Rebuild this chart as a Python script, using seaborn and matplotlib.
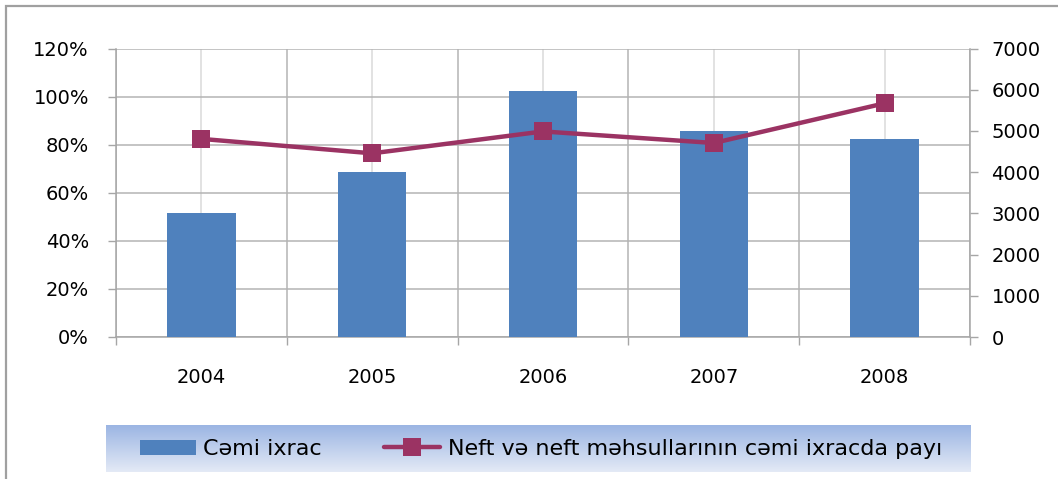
import numpy as np
import pandas as pd
import matplotlib
matplotlib.use("Agg")
import matplotlib.pyplot as plt
import seaborn as sns
from matplotlib.patches import Patch, Rectangle
from matplotlib.lines import Line2D
from matplotlib.ticker import PercentFormatter, FixedLocator
from matplotlib.colors import LinearSegmentedColormap

years = ["2004", "2005", "2006", "2007", "2008"]
total_export = [3000, 4000, 5980, 5005, 4805]
oil_share = [82.4, 76.4, 85.5, 80.7, 97.2]
pct_ticks = [0, 20, 40, 60, 80, 100, 120]
val_ticks = [0, 1000, 2000, 3000, 4000, 5000, 6000, 7000]
label_bar = "Cəmi ixrac"
label_line = "Neft və neft məhsullarının cəmi ixracda payı"

bar_color = "#4F81BD"
line_color = "#9B3363"
grid_dark = "#b4b4b4"
grid_light = "#dadada"
spine_color = "#a6a6a6"

sns.set_theme(style="white")
plt.rcParams["font.family"] = ["DejaVu Sans"]
plt.rcParams["font.size"] = 14
plt.rcParams["text.color"] = "black"

W, H = 1058, 479
fig = plt.figure(figsize=(W / 100, H / 100), dpi=100)
fig.patch.set_facecolor("white")

x0, x1, ytop, ybot = 116, 970, 48.5, 337
pos = [x0 / W, 1 - ybot / H, (x1 - x0) / W, (ybot - ytop) / H]

ax_pct = fig.add_axes(pos)
ax_val = ax_pct.twinx()
ax_line = fig.add_axes(pos, sharex=ax_pct, sharey=ax_pct)
ax_line.patch.set_visible(False)

df = pd.DataFrame({"year": years, "total": total_export, "share": oil_share})

sns.barplot(data=df, x="year", y="total", ax=ax_val, color=bar_color,
            saturation=1, width=0.4, zorder=3, edgecolor="none", linewidth=0)
sns.pointplot(data=df, x="year", y="share", ax=ax_line, color=line_color,
              markers="s", markersize=13, linewidth=3.2)
for l in ax_line.lines:
    l.set_markeredgewidth(0)

n = len(years)
ax_pct.set_xlim(-0.5, n - 0.5)
ax_pct.set_ylim(0, 120)
ax_val.set_ylim(0, 7000)

# x ticks: labels at centres, minor ticks at category boundaries
ax_pct.xaxis.set_major_locator(FixedLocator(np.arange(n)))
ax_pct.set_xticklabels(years)
ax_pct.xaxis.set_minor_locator(FixedLocator(np.arange(n + 1) - 0.5))
ax_pct.tick_params(axis="x", which="major", length=0, pad=22, labelsize=14, labelcolor="black")
ax_pct.tick_params(axis="x", which="minor", length=6, width=1.0, color=spine_color, direction="out", bottom=True)
ax_pct.set_yticks(pct_ticks)
ax_pct.yaxis.set_major_formatter(PercentFormatter(100, decimals=0))
ax_pct.tick_params(axis="y", which="major", length=6, width=1.0, color=spine_color,
                   direction="out", left=True, pad=13.5, labelsize=14, labelcolor="black")
ax_pct.set_xlabel("")
ax_pct.set_ylabel("")

ax_val.set_yticks(val_ticks)
ax_val.tick_params(axis="y", which="major", length=6, width=1.0, color=spine_color,
                   direction="out", right=True, pad=9.5, labelsize=14, labelcolor="black")
ax_val.set_ylabel("")
ax_val.set_xlabel("")

# gridlines
ax_pct.grid(True, axis="y", which="major", color=grid_dark, lw=1.1)
ax_pct.grid(True, axis="x", which="major", color=grid_light, lw=1.1)
ax_pct.grid(True, axis="x", which="minor", color=grid_dark, lw=1.1)
ax_pct.set_axisbelow(True)

for s in ["top", "right"]:
    ax_pct.spines[s].set_visible(False)
for s in ["left", "bottom"]:
    ax_pct.spines[s].set_color(spine_color)
    ax_pct.spines[s].set_linewidth(1.1)
for s in ["top", "left", "bottom"]:
    ax_val.spines[s].set_visible(False)
ax_val.spines["right"].set_color(spine_color)
ax_val.spines["right"].set_linewidth(1.1)
ax_line.axis("off")

# legend background with gradient
lx0, lx1, ly0, ly1 = 106, 971, 425, 472
ax_leg = fig.add_axes([lx0 / W, 1 - ly1 / H, (lx1 - lx0) / W, (ly1 - ly0) / H])
cmap = LinearSegmentedColormap.from_list("g", ["#9BB5E3", "#E4EAF6"])
grad = np.linspace(0, 1, 256).reshape(-1, 1)
ax_leg.imshow(grad, aspect="auto", cmap=cmap, extent=[0, 1, 0, 1], origin="upper")
ax_leg.axis("off")

handles = [Patch(facecolor=bar_color, edgecolor="none"),
           Line2D([], [], color=line_color, lw=3.2, marker="s", markersize=13, markeredgewidth=0)]
leg = fig.legend(handles, [label_bar, label_line], loc="center",
                 bbox_to_anchor=(541 / W, 1 - 449 / H), ncol=2, frameon=False,
                 fontsize=16, handlelength=2.5, handletextpad=0.35, columnspacing=2.8,
                 handleheight=0.65)
for t in leg.get_texts():
    t.set_color("black")

# outer chart border (left and top visible)
fig.patches.append(Rectangle((6 / W, -0.5), 2, 1 - 6 / H + 0.5, fill=False,
                             edgecolor="#a0a0a0", lw=1.6, transform=fig.transFigure))

fig.savefig("out.png", dpi=100)
